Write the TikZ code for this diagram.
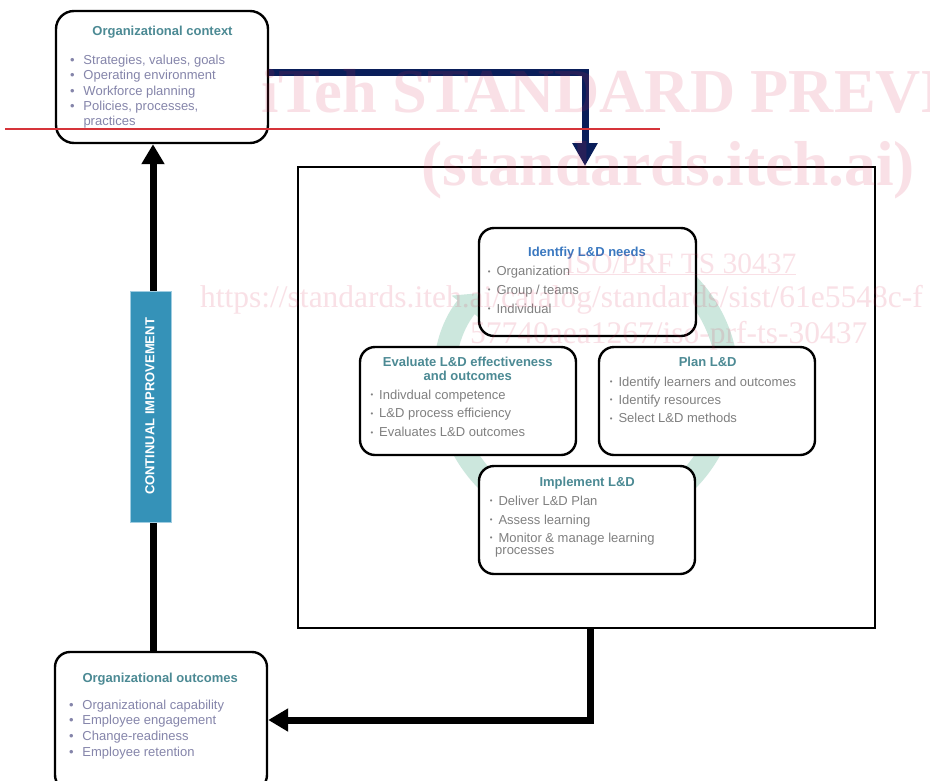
\documentclass[tikz,border=0pt]{standalone}
\usepackage{graphicx}
\usepackage{fontspec}
\setmainfont{Liberation Sans}
\newfontfamily\wmfont{Liberation Serif}
\usetikzlibrary{arrows.meta}
\definecolor{ttlc}{RGB}{76,138,148}
\definecolor{bluettl}{RGB}{58,120,192}
\definecolor{lav}{RGB}{133,133,170}
\definecolor{gry}{RGB}{128,128,128}
\definecolor{navyc}{RGB}{10,30,90}
\definecolor{cifill}{RGB}{53,146,184}
\definecolor{cibord}{RGB}{160,205,225}
\definecolor{redline}{RGB}{214,52,58}
\definecolor{mint}{RGB}{204,231,221}
\definecolor{wmc}{RGB}{214,40,80}
\newcommand\myblt{\makebox[13.3pt][l]{\textbullet}}
\newcommand\mysblt{\makebox[8.7pt][l]{\raisebox{0.12em}{\scalebox{0.6}{\textbullet}}}}
\tikzset{
  box/.style={draw=black, line width=2.4pt, rounded corners=15pt, fill=white, inner sep=0pt},
  ttl/.style={font=\bfseries\fontsize{13}{15}\selectfont, text=ttlc, anchor=base, inner sep=0pt},
  itm/.style={font=\fontsize{13}{15}\selectfont, text=lav, anchor=base west, inner sep=0pt},
  gitm/.style={itm, text=gry},
  blackarrow/.style={line width=7pt, draw=black, -{Triangle[width=22pt,length=20pt]}},
  navyarrow/.style={line width=7pt, draw=navyc, -{Triangle[width=24pt,length=23pt]}},
  wm/.style={text=wmc, opacity=0.14, inner sep=0pt, anchor=base west},
}
\begin{document}
\begin{tikzpicture}[x=1pt,y=-1pt]
\useasboundingbox[fill=white] (0,0) rectangle (930,780);

% big frame
\node[draw=black, line width=2pt, minimum width=577pt, minimum height=461pt, inner sep=0pt] (big) at (586.5,397.5) {};

% ring
\draw[mint, line width=22pt, -{Triangle[width=36pt,length=18pt]}] (490.8,278.9) arc[start angle=-133, end angle=219, radius=141];

% top boxes
\node[box, rounded corners=18pt, minimum width=212pt, minimum height=132pt] (ctx) at (162,77) {};
\node[box, minimum width=212pt, minimum height=138pt] (out) at (161,721) {};

% central boxes
\node[box, minimum width=217pt, minimum height=108pt] (idn) at (587.5,282) {};
\node[box, minimum width=216pt, minimum height=108pt] (eva) at (468,401) {};
\node[box, minimum width=216pt, minimum height=108pt] (pln) at (707,401) {};
\node[box, minimum width=216pt, minimum height=108pt] (imp) at (587,520) {};

% texts: context
\node[ttl] (ctxt) at (162.5,35.7) {Organizational context};
\node[itm] (ctx1) at (70,64.3) {\myblt Strategies, values, goals};
\node[itm] (ctx2) at (70,79.8) {\myblt Operating environment};
\node[itm] (ctx3) at (70,95.3) {\myblt Workforce planning};
\node[itm] (ctx4) at (70,110.6) {\myblt Policies, processes,};
\node[itm] (ctx5) at (83.3,125.4) {practices};

% texts: outcomes
\node[ttl] (outt) at (160.2,682.3) {Organizational outcomes};
\node[itm] (out1) at (69,709) {\myblt Organizational capability};
\node[itm] (out2) at (69,724.6) {\myblt Employee engagement};
\node[itm] (out3) at (69,740.2) {\myblt Change-readiness};
\node[itm] (out4) at (69,756) {\myblt Employee retention};

% identify
\node[ttl, text=bluettl] (idnt) at (587,256.7) {Identfiy L\&D needs};
\node[gitm] (idn1) at (487.6,275.7) {\mysblt Organization};
\node[gitm] (idn2) at (487.6,294.5) {\mysblt Group / teams};
\node[gitm] (idn3) at (487.6,313.3) {\mysblt Individual};

% evaluate
\node[ttl] (evat1) at (467.8,366.7) {Evaluate L\&D effectiveness};
\node[ttl] (evat2) at (467.8,380.2) {and outcomes};
\node[gitm] (eva1) at (370.3,399) {\mysblt Indivdual competence};
\node[gitm] (eva2) at (370.3,417.8) {\mysblt L\&D process efficiency};
\node[gitm] (eva3) at (370.3,436.7) {\mysblt Evaluates L\&D outcomes};

% plan
\node[ttl] (plnt) at (707.7,366.7) {Plan L\&D};
\node[gitm] (pln1) at (609.6,386) {\mysblt Identify learners and outcomes};
\node[gitm] (pln2) at (609.6,404.3) {\mysblt Identify resources};
\node[gitm] (pln3) at (609.6,422.7) {\mysblt Select L\&D methods};

% implement
\node[ttl] (impt) at (587.2,486) {Implement L\&D};
\node[gitm] (imp1) at (489.6,505) {\mysblt Deliver L\&D Plan};
\node[gitm] (imp2) at (489.6,524) {\mysblt Assess learning};
\node[gitm] (imp3) at (489.6,542.3) {\mysblt Monitor \& manage learning};
\node[gitm] (imp4) at (495,554.3) {processes};

% connectors
\draw[navyarrow] ([yshift=5pt]ctx.east) -| ([xshift=-1.5pt]big.north);
\draw[blackarrow] ([xshift=-8pt]out.north) -- ([xshift=-9pt]ctx.south);
\draw[blackarrow] ([xshift=3.5pt]big.south) |- ([yshift=1pt]out.east);

% continual improvement bar
\node[draw=cibord, line width=0.8pt, fill=cifill, minimum width=41pt, minimum height=231pt, inner sep=0pt] (ci) at (150.5,406.5) {};
\node[rotate=90, text=white, font=\bfseries\fontsize{13}{15}\selectfont, inner sep=0pt] (cit) at (150,406.5) {CONTINUAL IMPROVEMENT};

% red line
\coordinate (r1) at (5,129);
\coordinate (r2) at (660,129);
\draw[redline, line width=2pt] (r1) -- (r2);

% watermark
\node[wm, font=\wmfont\bfseries\fontsize{62.5}{62.5}\selectfont] (wm1) at (261,112) {iTeh STANDARD PREVIEW};
\node[wm, font=\wmfont\bfseries\fontsize{63.5}{63.5}\selectfont] (wm2) at (421,185) {(standards.iteh.ai)};
\node[wm, font=\wmfont\fontsize{29.5}{29.5}\selectfont] (wm3) at (565,273) {\underline{ISO/PRF TS 30437}};
\node[wm, font=\wmfont\fontsize{31.5}{31.5}\selectfont] (wm4) at (200,307) {https://standards.iteh.ai/catalog/standards/sist/61e5548c-f};
\node[wm, font=\wmfont\fontsize{31.5}{31.5}\selectfont] (wm5) at (470,343) {57740aea1267/iso-prf-ts-30437};
\end{tikzpicture}
\end{document}
